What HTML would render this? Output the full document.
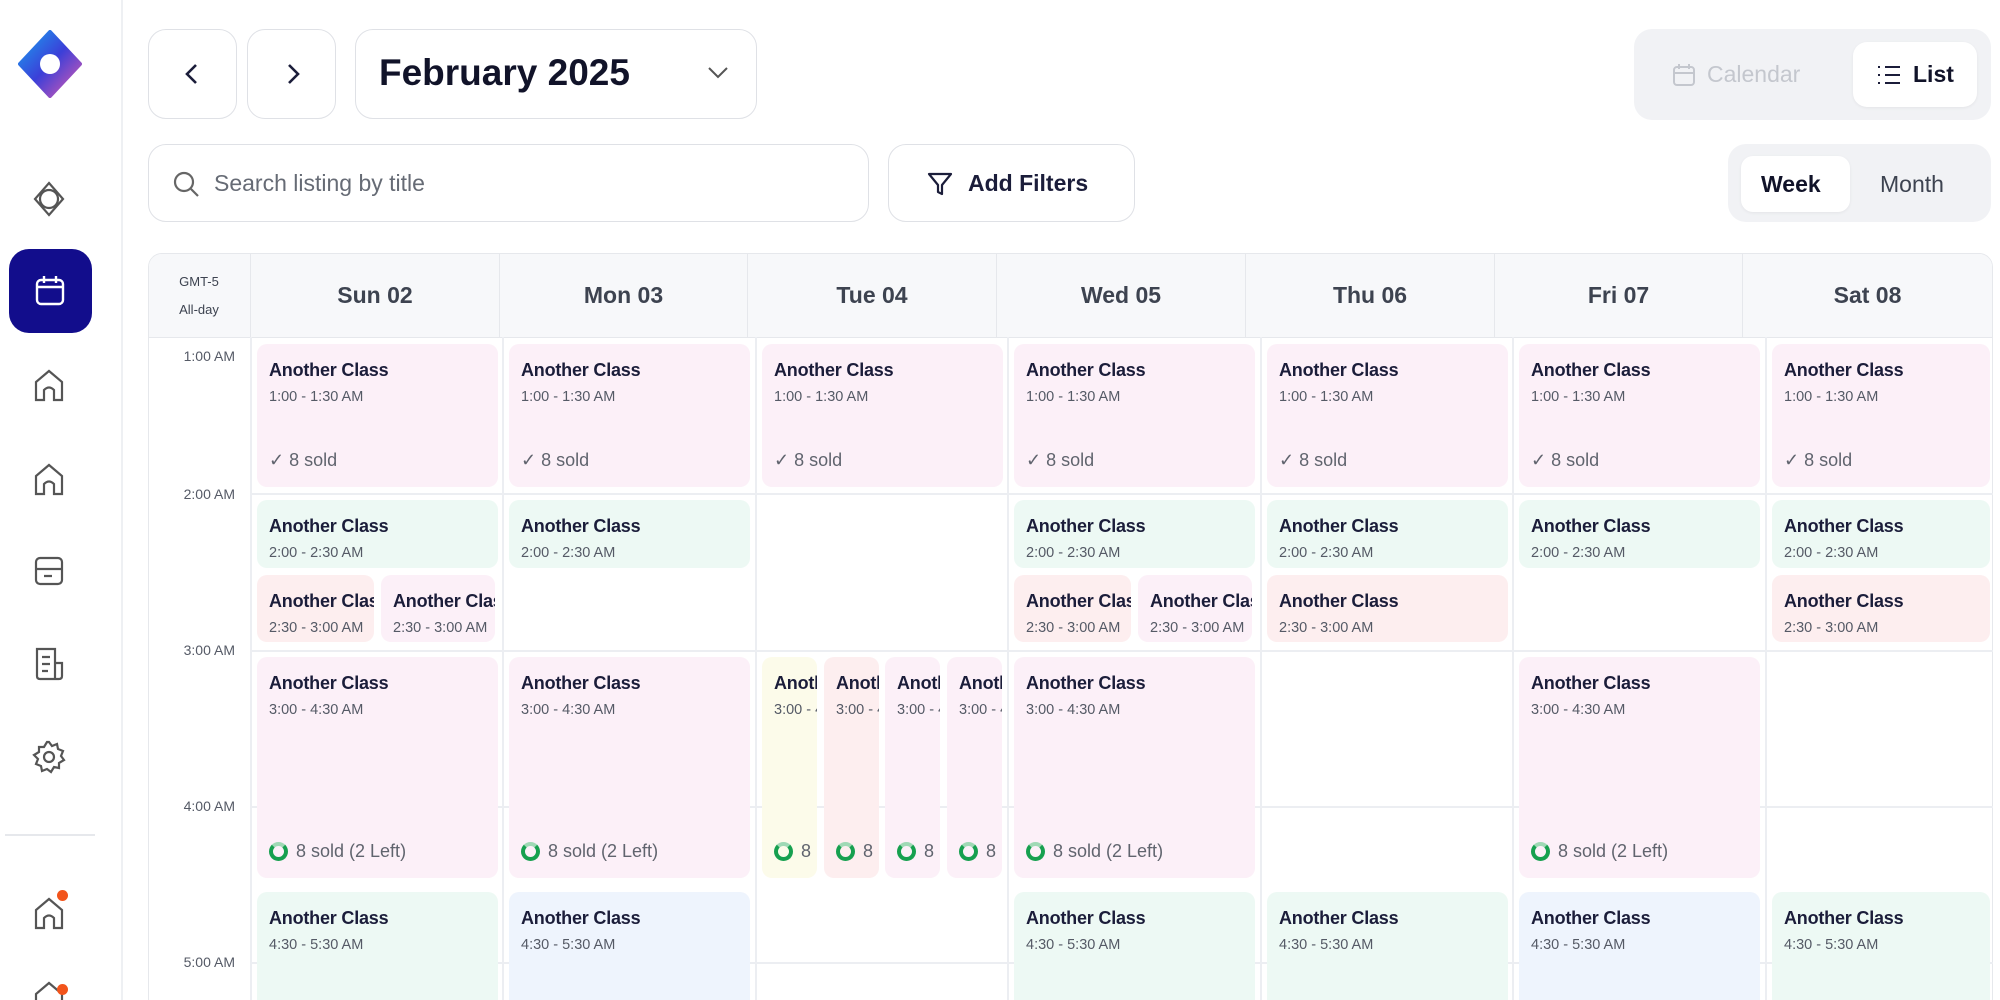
<!DOCTYPE html>
<html style="width:2000px;height:1000px;overflow:hidden"><head><meta charset="utf-8">
<style>
*{box-sizing:border-box;margin:0;padding:0}
body{width:2000px;height:1000px;overflow:hidden;background:#fff;font-family:"Liberation Sans",sans-serif;position:relative;color:#1b1d3a}
.abs{position:absolute}
.btn{position:absolute;border:1.5px solid #dfe1e6;border-radius:18px;background:#fff}
.ev{position:absolute;border-radius:10px;padding:16px 12px;overflow:hidden;white-space:nowrap}
.t{font-weight:bold;font-size:18px;color:#1b1d3a;letter-spacing:-0.2px}
.s{font-size:14.5px;color:#555a66;margin-top:8px}
.b{position:absolute;left:12px;bottom:16px;font-size:18px;color:#60646e;display:flex;align-items:center;gap:8px}
.ring{width:19px;height:19px;border-radius:50%;border:4px solid #16a04f;border-top-color:#9fd9b5}
.pk{background:#fcf0f8}.gr{background:#edf9f4}.rd{background:#fdeeef}.bl{background:#eef4fd}.yl{background:#fcfbea}
.hd{position:absolute;top:253px;height:84px;display:flex;align-items:center;justify-content:center;font-size:23px;font-weight:bold;color:#3d4350;border-left:1.5px solid #e6e8ec}
.tl{position:absolute;right:1765px;font-size:14px;color:#555a66;text-align:right}
.vl{position:absolute;top:337px;height:663px;width:1.5px;background:#eceef2}
.hl{position:absolute;left:250px;width:1743px;height:1.5px;background:#eceef2}
.ic{position:absolute;left:30px}
</style></head><body>

<div class="abs" style="left:121px;top:0;width:1.5px;height:1000px;background:#eef0f3"></div>
<svg class="abs" style="left:18px;top:30px" width="64" height="68" viewBox="0 0 64 68">
<defs><linearGradient id="g" x1="0" y1="0" x2="1" y2="1"><stop offset="0" stop-color="#1aa0f0"/><stop offset="0.5" stop-color="#3b3fd8"/><stop offset="1" stop-color="#e05cb0"/></linearGradient></defs>
<path d="M32 2 L62 34 L32 66 L2 34 Z" fill="url(#g)" stroke="url(#g)" stroke-width="4" stroke-linejoin="round"/>
<circle cx="32" cy="34" r="10" fill="#fff"/></svg>
<svg class="ic" style="top:180px" width="38" height="38" viewBox="0 0 38 38" fill="none" stroke="#555" stroke-width="2.2"><path d="M19 3 L33 19 L19 35 L5 19 Z"/><circle cx="19" cy="19" r="9"/></svg>
<div class="abs" style="left:9px;top:249px;width:83px;height:84px;background:#120d8c;border-radius:20px"></div>
<svg class="abs" style="left:33px;top:274px" width="34" height="34" viewBox="0 0 34 34" fill="none" stroke="#fff" stroke-width="2.4"><rect x="4" y="6" width="26" height="24" rx="4"/><path d="M4 13 H30 M11 2 V9 M23 2 V9"/></svg>
<svg class="ic" style="top:366px" width="38" height="38" viewBox="0 0 38 38" fill="none" stroke="#555" stroke-width="2.2"><path d="M6 34 V16 L19 5 L32 16 V34 H24 V24 Q19 19 14 24 V34 Z"/></svg>
<svg class="ic" style="top:460px" width="38" height="38" viewBox="0 0 38 38" fill="none" stroke="#555" stroke-width="2.2"><path d="M6 34 V16 L19 5 L32 16 V34 H24 V24 Q19 19 14 24 V34 Z"/></svg>
<svg class="ic" style="top:552px" width="38" height="38" viewBox="0 0 38 38" fill="none" stroke="#555" stroke-width="2.2"><rect x="6" y="6" width="26" height="26" rx="4"/><path d="M6 17 H32 M14 24 H22"/></svg>
<svg class="ic" style="top:645px" width="38" height="38" viewBox="0 0 38 38" fill="none" stroke="#555" stroke-width="2.2"><path d="M7 4 H25 V34 H10 Q7 34 7 31 Z M25 18 H32 V31 Q32 34 29 34 H25 M12 12 H20 M12 19 H20 M12 26 H18"/></svg>
<svg class="ic" style="top:738px" width="38" height="38" viewBox="0 0 38 38" fill="none" stroke="#555" stroke-width="2.2"><circle cx="19" cy="19" r="5"/><path d="M19 4 L22 8 L27 6 L28 11 L33 13 L31 18 L34 22 L29 25 L29 30 L24 29 L21 34 L17 31 L12 33 L11 28 L6 26 L8 21 L4 17 L9 14 L9 9 L14 9 L17 4 Z"/></svg>
<div class="abs" style="left:5px;top:834px;width:90px;height:1.5px;background:#e6e8ec"></div>
<svg class="ic" style="top:894px" width="38" height="38" viewBox="0 0 38 38" fill="none" stroke="#555" stroke-width="2.2"><path d="M6 34 V16 L19 5 L32 16 V34 H24 V24 Q19 19 14 24 V34 Z"/></svg>
<div class="abs" style="left:57px;top:890px;width:11px;height:11px;border-radius:50%;background:#f2541b"></div>
<svg class="ic" style="top:978px" width="38" height="22" viewBox="0 0 38 22" fill="none" stroke="#555" stroke-width="2.2"><path d="M6 22 V16 L19 5 L32 16 V22"/></svg>
<div class="abs" style="left:57px;top:984px;width:11px;height:11px;border-radius:50%;background:#f2541b"></div>

<div class="btn" style="left:148px;top:29px;width:89px;height:90px"></div>
<svg class="abs" style="left:182px;top:62px" width="20" height="24" viewBox="0 0 20 24" fill="none" stroke="#1b1d3a" stroke-width="2.6"><path d="M14 3 L5 12 L14 21"/></svg>
<div class="btn" style="left:247px;top:29px;width:89px;height:90px"></div>
<svg class="abs" style="left:283px;top:62px" width="20" height="24" viewBox="0 0 20 24" fill="none" stroke="#1b1d3a" stroke-width="2.6"><path d="M6 3 L15 12 L6 21"/></svg>
<div class="btn" style="left:355px;top:29px;width:402px;height:90px"></div>
<div class="abs" style="left:379px;top:52px;font-size:37px;font-weight:bold;color:#111329">February 2025</div>
<svg class="abs" style="left:707px;top:66px" width="22" height="14" viewBox="0 0 22 14" fill="none" stroke="#555" stroke-width="2"><path d="M2 2 L11 11 L20 2"/></svg>

<div class="abs" style="left:1634px;top:29px;width:357px;height:91px;background:#f1f2f5;border-radius:18px"></div>
<svg class="abs" style="left:1672px;top:63px" width="24" height="24" viewBox="0 0 24 24" fill="none" stroke="#c4c7ce" stroke-width="2"><rect x="2" y="4" width="20" height="18" rx="3"/><path d="M2 10 H22 M7 1 V6 M17 1 V6"/></svg>
<div class="abs" style="left:1707px;top:61px;font-size:23px;color:#c4c7ce">Calendar</div>
<div class="abs" style="left:1853px;top:42px;width:124px;height:65px;background:#fff;border-radius:14px;box-shadow:0 1px 3px rgba(0,0,0,.06)"></div>
<svg class="abs" style="left:1877px;top:64px" width="24" height="22" viewBox="0 0 24 22" fill="none" stroke="#1b1d3a" stroke-width="2"><path d="M1 3 H3 M8 3 H23 M1 11 H3 M8 11 H23 M1 19 H3 M8 19 H23"/></svg>
<div class="abs" style="left:1913px;top:61px;font-size:23px;font-weight:bold;color:#111329">List</div>

<div class="btn" style="left:148px;top:144px;width:721px;height:78px"></div>
<svg class="abs" style="left:172px;top:170px" width="28" height="28" viewBox="0 0 28 28" fill="none" stroke="#666" stroke-width="2.2"><circle cx="12" cy="12" r="9"/><path d="M19 19 L26 26"/></svg>
<div class="abs" style="left:214px;top:170px;font-size:23px;color:#666b75">Search listing by title</div>
<div class="btn" style="left:888px;top:144px;width:247px;height:78px"></div>
<svg class="abs" style="left:927px;top:171px" width="26" height="26" viewBox="0 0 26 26" fill="none" stroke="#1b1d3a" stroke-width="2.2" stroke-linejoin="round"><path d="M2 3 H24 L15 14 V23 L11 21 V14 Z"/></svg>
<div class="abs" style="left:968px;top:170px;font-size:23px;font-weight:bold;color:#1b1d3a">Add Filters</div>

<div class="abs" style="left:1728px;top:144px;width:263px;height:78px;background:#f1f2f5;border-radius:18px"></div>
<div class="abs" style="left:1741px;top:156px;width:109px;height:56px;background:#fff;border-radius:12px;box-shadow:0 1px 3px rgba(0,0,0,.06)"></div>
<div class="abs" style="left:1761px;top:171px;font-size:23px;font-weight:bold;color:#111329">Week</div>
<div class="abs" style="left:1880px;top:171px;font-size:23px;color:#3d4350">Month</div>

<div class="abs" style="left:148px;top:253px;width:1845px;height:760px;border:1.5px solid #e6e8ec;border-radius:14px;overflow:hidden">
<div class="abs" style="left:0;top:0;width:100%;height:84px;background:#f7f8fa;border-bottom:1.5px solid #e6e8ec"></div></div>
<div class="abs" style="left:148px;top:268px;width:102px;text-align:center;font-size:13px;color:#3d4350;line-height:28px">GMT-5<br>All-day</div>
<div class="hd" style="left:250px;width:249px">Sun 02</div>
<div class="hd" style="left:499px;width:248px">Mon 03</div>
<div class="hd" style="left:747px;width:249px">Tue 04</div>
<div class="hd" style="left:996px;width:249px">Wed 05</div>
<div class="hd" style="left:1245px;width:249px">Thu 06</div>
<div class="hd" style="left:1494px;width:248px">Fri 07</div>
<div class="hd" style="left:1742px;width:250px">Sat 08</div>

<div class="vl" style="left:250px"></div><div class="vl" style="left:502px"></div><div class="vl" style="left:755px"></div><div class="vl" style="left:1007px"></div><div class="vl" style="left:1260px"></div><div class="vl" style="left:1512px"></div><div class="vl" style="left:1765px"></div>
<div class="hl" style="top:493px"></div><div class="hl" style="top:650px"></div><div class="hl" style="top:806px"></div><div class="hl" style="top:962px"></div>

<div class="tl" style="top:348px">1:00 AM</div>
<div class="tl" style="top:486px">2:00 AM</div>
<div class="tl" style="top:642px">3:00 AM</div>
<div class="tl" style="top:798px">4:00 AM</div>
<div class="tl" style="top:954px">5:00 AM</div>

<div class="ev pk" style="left:257px;top:344px;width:241px;height:143px"><div class="t">Another Class</div><div class="s">1:00 - 1:30 AM</div><div class="b">✓ 8 sold</div></div>
<div class="ev pk" style="left:509px;top:344px;width:241px;height:143px"><div class="t">Another Class</div><div class="s">1:00 - 1:30 AM</div><div class="b">✓ 8 sold</div></div>
<div class="ev pk" style="left:762px;top:344px;width:241px;height:143px"><div class="t">Another Class</div><div class="s">1:00 - 1:30 AM</div><div class="b">✓ 8 sold</div></div>
<div class="ev pk" style="left:1014px;top:344px;width:241px;height:143px"><div class="t">Another Class</div><div class="s">1:00 - 1:30 AM</div><div class="b">✓ 8 sold</div></div>
<div class="ev pk" style="left:1267px;top:344px;width:241px;height:143px"><div class="t">Another Class</div><div class="s">1:00 - 1:30 AM</div><div class="b">✓ 8 sold</div></div>
<div class="ev pk" style="left:1519px;top:344px;width:241px;height:143px"><div class="t">Another Class</div><div class="s">1:00 - 1:30 AM</div><div class="b">✓ 8 sold</div></div>
<div class="ev pk" style="left:1772px;top:344px;width:218px;height:143px"><div class="t">Another Class</div><div class="s">1:00 - 1:30 AM</div><div class="b">✓ 8 sold</div></div>

<div class="ev gr" style="left:257px;top:500px;width:241px;height:68px"><div class="t">Another Class</div><div class="s">2:00 - 2:30 AM</div></div>
<div class="ev gr" style="left:509px;top:500px;width:241px;height:68px"><div class="t">Another Class</div><div class="s">2:00 - 2:30 AM</div></div>
<div class="ev gr" style="left:1014px;top:500px;width:241px;height:68px"><div class="t">Another Class</div><div class="s">2:00 - 2:30 AM</div></div>
<div class="ev gr" style="left:1267px;top:500px;width:241px;height:68px"><div class="t">Another Class</div><div class="s">2:00 - 2:30 AM</div></div>
<div class="ev gr" style="left:1519px;top:500px;width:241px;height:68px"><div class="t">Another Class</div><div class="s">2:00 - 2:30 AM</div></div>
<div class="ev gr" style="left:1772px;top:500px;width:218px;height:68px"><div class="t">Another Class</div><div class="s">2:00 - 2:30 AM</div></div>

<div class="ev rd" style="left:257px;top:575px;width:117px;height:67px"><div class="t">Another Class</div><div class="s">2:30 - 3:00 AM</div></div>
<div class="ev pk" style="left:381px;top:575px;width:114px;height:67px"><div class="t">Another Class</div><div class="s">2:30 - 3:00 AM</div></div>
<div class="ev rd" style="left:1014px;top:575px;width:117px;height:67px"><div class="t">Another Class</div><div class="s">2:30 - 3:00 AM</div></div>
<div class="ev pk" style="left:1138px;top:575px;width:114px;height:67px"><div class="t">Another Class</div><div class="s">2:30 - 3:00 AM</div></div>
<div class="ev rd" style="left:1267px;top:575px;width:241px;height:67px"><div class="t">Another Class</div><div class="s">2:30 - 3:00 AM</div></div>
<div class="ev rd" style="left:1772px;top:575px;width:218px;height:67px"><div class="t">Another Class</div><div class="s">2:30 - 3:00 AM</div></div>

<div class="ev pk" style="left:257px;top:657px;width:241px;height:221px"><div class="t">Another Class</div><div class="s">3:00 - 4:30 AM</div><div class="b"><span class="ring"></span>8 sold (2 Left)</div></div>
<div class="ev pk" style="left:509px;top:657px;width:241px;height:221px"><div class="t">Another Class</div><div class="s">3:00 - 4:30 AM</div><div class="b"><span class="ring"></span>8 sold (2 Left)</div></div>
<div class="ev yl" style="left:762px;top:657px;width:55px;height:221px"><div class="t">Another</div><div class="s">3:00 - 4:30</div><div class="b"><span class="ring"></span>8</div></div>
<div class="ev rd" style="left:824px;top:657px;width:55px;height:221px"><div class="t">Another</div><div class="s">3:00 - 4:30</div><div class="b"><span class="ring"></span>8</div></div>
<div class="ev pk" style="left:885px;top:657px;width:55px;height:221px"><div class="t">Another</div><div class="s">3:00 - 4:30</div><div class="b"><span class="ring"></span>8</div></div>
<div class="ev pk" style="left:947px;top:657px;width:55px;height:221px"><div class="t">Another</div><div class="s">3:00 - 4:30</div><div class="b"><span class="ring"></span>8</div></div>
<div class="ev pk" style="left:1014px;top:657px;width:241px;height:221px"><div class="t">Another Class</div><div class="s">3:00 - 4:30 AM</div><div class="b"><span class="ring"></span>8 sold (2 Left)</div></div>
<div class="ev pk" style="left:1519px;top:657px;width:241px;height:221px"><div class="t">Another Class</div><div class="s">3:00 - 4:30 AM</div><div class="b"><span class="ring"></span>8 sold (2 Left)</div></div>

<div class="ev gr" style="left:257px;top:892px;width:241px;height:130px"><div class="t">Another Class</div><div class="s">4:30 - 5:30 AM</div></div>
<div class="ev bl" style="left:509px;top:892px;width:241px;height:130px"><div class="t">Another Class</div><div class="s">4:30 - 5:30 AM</div></div>
<div class="ev gr" style="left:1014px;top:892px;width:241px;height:130px"><div class="t">Another Class</div><div class="s">4:30 - 5:30 AM</div></div>
<div class="ev gr" style="left:1267px;top:892px;width:241px;height:130px"><div class="t">Another Class</div><div class="s">4:30 - 5:30 AM</div></div>
<div class="ev bl" style="left:1519px;top:892px;width:241px;height:130px"><div class="t">Another Class</div><div class="s">4:30 - 5:30 AM</div></div>
<div class="ev gr" style="left:1772px;top:892px;width:218px;height:130px"><div class="t">Another Class</div><div class="s">4:30 - 5:30 AM</div></div>

</body></html>
